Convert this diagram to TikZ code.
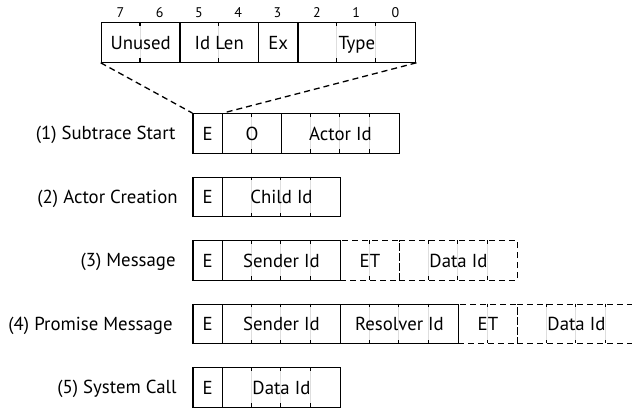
\documentclass[tikz,border=0pt]{standalone}
\usepackage{fontspec}
\setmainfont{PT Sans}
\newcommand{\bw}{29.5}
\newcommand{\bh}{39.5}
\newcommand{\tl}{3.5}
\newcommand{\fieldat}[6]{%
  \pgfmathsetmacro{\fw}{#5*\bw}%
  \pgfmathtruncatemacro{\nm}{#5-1}%
  \ifnum\nm>0
    \foreach \k in {1,...,\nm}{%
      \pgfmathsetmacro{\xx}{#3+\k*\bw}%
      \draw[sepline] (\xx,#4) -- (\xx,#4+\bh);
      \draw[tickline] (\xx,#4) -- (\xx,#4+\tl);
      \draw[tickline] (\xx,#4+\bh) -- (\xx,#4+\bh-\tl);
    }%
  \fi
  \node[#2, minimum width=\fw*0.5pt, minimum height=\bh*0.5pt] (#1) at (#3,#4) {#6};
}
\begin{document}
\begin{tikzpicture}[x=0.5pt,y=-0.5pt,
  fld/.style={draw, line width=0.65pt, inner sep=0pt, anchor=north west,
    font=\fontsize{9.4}{11}\selectfont, text height=6.6pt, text depth=0pt},
  opt/.style={fld, dash pattern=on 3pt off 2pt},
  sepline/.style={draw=black!13, line width=0.4pt},
  tickline/.style={draw=black, line width=0.65pt},
  bitnum/.style={font=\fontsize{7}{8}\selectfont, inner sep=0pt},
  rowlab/.style={anchor=east, inner sep=0pt, font=\fontsize{9.4}{11}\selectfont,
    text height=6.6pt, text depth=0pt},
  conn/.style={line width=0.65pt, dash pattern=on 3pt off 2pt}]
\useasboundingbox (0,0) rectangle (632,408);
\clip (0,0) rectangle (632,408);
% bit field header
\renewcommand{\bw}{39.3}
\foreach \i in {0,...,7}{\node[bitnum] (bit\i) at ({100.7+(7.5-\i)*39.3},12.5) {\i};}
\fieldat{unused}{fld}{100.7}{22}{2}{Unused}
\fieldat{idlen}{fld}{179.3}{22}{2}{Id Len}
\fieldat{ex}{fld}{257.9}{22}{1}{Ex}
\fieldat{type}{fld}{297.2}{22}{3}{Type}
\renewcommand{\bw}{29.5}
% row 1
\node[rowlab] (l1) at (176,133) {(1) Subtrace Start};
\fieldat{e1}{fld}{192.3}{113}{1}{E}
\fieldat{o1}{fld}{221.8}{113}{2}{O}
\fieldat{actor1}{fld}{280.8}{113}{4}{Actor Id}
% row 2
\node[rowlab] (l2) at (178,196.5) {(2) Actor Creation};
\fieldat{e2}{fld}{192.3}{176.5}{1}{E}
\fieldat{child2}{fld}{221.8}{176.5}{4}{Child Id}
% row 3
\node[rowlab] (l3) at (176,260) {(3) Message};
\fieldat{et3}{opt}{339.8}{240}{2}{ET}
\fieldat{data3}{opt}{398.8}{240}{4}{Data Id}
\fieldat{e3}{fld}{192.3}{240}{1}{E}
\fieldat{sender3}{fld}{221.8}{240}{4}{Sender Id}
% row 4
\node[rowlab] (l4) at (173,323.5) {(4) Promise Message};
\fieldat{et4}{opt}{457.8}{303.5}{2}{ET}
\fieldat{data4}{opt}{516.8}{303.5}{4}{Data Id}
\fieldat{e4}{fld}{192.3}{303.5}{1}{E}
\fieldat{sender4}{fld}{221.8}{303.5}{4}{Sender Id}
\fieldat{resolver4}{fld}{339.8}{303.5}{4}{Resolver Id}
% row 5
\node[rowlab] (l5) at (177,387) {(5) System Call};
\fieldat{e5}{fld}{192.3}{367}{1}{E}
\fieldat{data5}{fld}{221.8}{367}{4}{Data Id}
% connectors
\draw[conn] (unused.south west) -- (e1.north west);
\draw[conn] (type.south east) -- (e1.north east);
\end{tikzpicture}
\end{document}
